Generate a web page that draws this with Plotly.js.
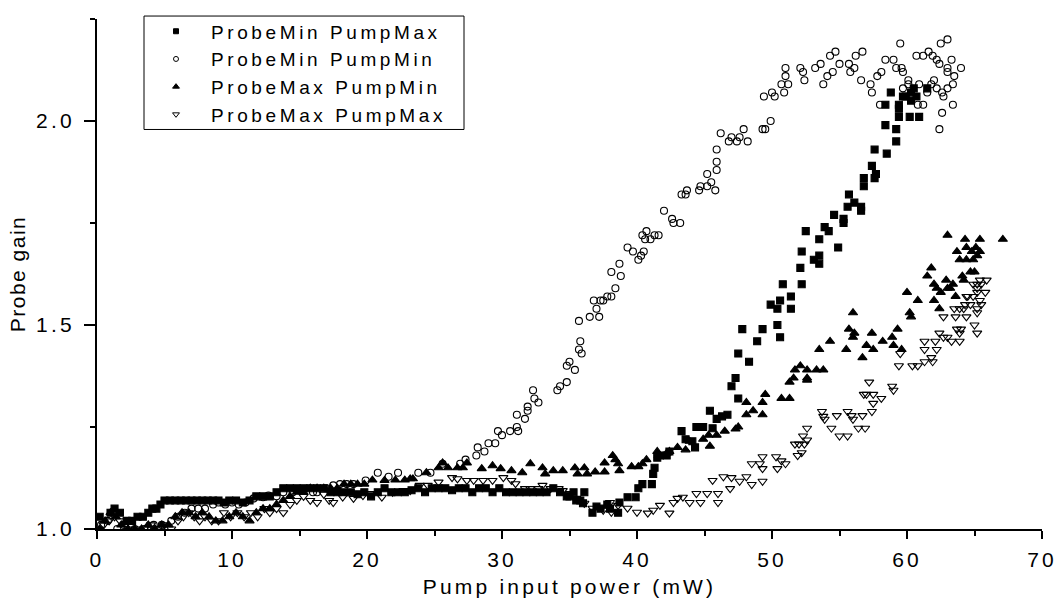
<!DOCTYPE html>
<html>
<head>
<meta charset="utf-8">
<script src="https://cdn.plot.ly/plotly-3.0.1.min.js"></script>
<style>
  html, body { margin: 0; padding: 0; background: #fff; }
  #chart { width: 1056px; height: 599px; }
  #chart .xtick text, #chart .ytick text, #chart text.xtitle { letter-spacing: 3.2px; }
  #chart text.ytitle { letter-spacing: 1.5px; }
  text.legendtext { letter-spacing: 3.6px; }
</style>
</head>
<body>
<div id="chart"></div>
<script>
// Series names (legend)
const seriesNames = ["ProbeMin PumpMax", "ProbeMin PumpMin", "ProbeMax PumpMin", "ProbeMax PumpMax"];

// Axis tick labels
const xTickVals = [0, 10, 20, 30, 40, 50, 60, 70];
const yTickVals = [1.0, 1.5, 2.0];
const yTickText = ["1.0", "1.5", "2.0"];

// ProbeMin PumpMax (filled squares) [pump mW, gain]
const probeMinPumpMax = [
  [0.2,1.03],[1.0,1.04],[1.3,1.05],[1.7,1.04],[2.2,1.02],[2.6,1.02],[3.0,1.03],[3.4,1.03],[3.8,1.04],[4.1,1.05],
  [4.4,1.05],[4.7,1.06],[5.0,1.07],[5.4,1.07],[5.8,1.07],[6.2,1.07],[6.6,1.07],[7.0,1.07],[7.4,1.07],[7.8,1.07],
  [8.2,1.07],[8.6,1.07],[9.0,1.07],[9.4,1.065],[9.8,1.07],[10.3,1.07],[10.8,1.065],[11.3,1.07],[11.8,1.08],[12.3,1.08],
  [12.8,1.08],[13.3,1.09],[13.8,1.10],[14.3,1.10],[14.8,1.10],[15.3,1.10],[15.8,1.10],[16.3,1.10],[16.8,1.10],[17.3,1.09],
  [17.8,1.09],[18.3,1.09],[18.8,1.09],[19.3,1.085],[19.8,1.09],[20.3,1.08],[20.8,1.09],[21.3,1.10],[21.8,1.09],[22.3,1.09],
  [22.8,1.09],[23.3,1.095],[23.8,1.10],[24.3,1.09],[24.8,1.10],[25.3,1.10],[25.8,1.10],[26.3,1.095],[26.8,1.10],[27.3,1.10],
  [27.8,1.09],[28.3,1.10],[28.8,1.10],[29.3,1.09],[29.8,1.10],[30.3,1.09],[30.8,1.09],[31.3,1.09],[31.8,1.09],[32.3,1.09],
  [32.8,1.09],[33.3,1.09],[33.8,1.10],[34.3,1.09],[34.8,1.08],[35.0,1.08],[35.3,1.09],[35.5,1.07],[35.8,1.07],[36.1,1.09],
  [36.0,1.063],[36.7,1.04],[37.0,1.055],[37.3,1.05],[37.8,1.06],[38.0,1.05],[38.6,1.04],[38.7,1.065],[39.3,1.078],[39.9,1.078],
  [40.1,1.10],[40.4,1.11],[41.1,1.11],[41.2,1.135],[41.3,1.15],[41.5,1.175],[41.7,1.18],[42.2,1.18],[42.4,1.19],[43.3,1.24],
  [43.6,1.22],[44.1,1.215],[44.3,1.20],[44.4,1.25],[44.9,1.25],[45.4,1.29],[45.6,1.247],[45.9,1.27],[46.3,1.276],[46.7,1.28],
  [47.0,1.35],[47.3,1.37],[47.5,1.32],[47.5,1.43],[47.8,1.49],[48.3,1.41],[48.9,1.46],[49.3,1.49],[49.9,1.55],[50.4,1.54],
  [50.4,1.50],[50.6,1.47],[50.6,1.56],[51.4,1.54],[51.4,1.57],[50.8,1.60],[52.2,1.60],[52.1,1.64],[52.2,1.68],[53.1,1.66],
  [53.5,1.67],[53.5,1.65],[52.5,1.73],[53.5,1.71],[53.9,1.74],[54.2,1.73],[54.9,1.69],[54.6,1.77],[55.3,1.76],[55.3,1.75],
  [55.6,1.79],[56.1,1.80],[56.6,1.79],[56.6,1.78],[55.7,1.82],[56.8,1.84],[56.8,1.86],[57.7,1.87],[57.6,1.86],[57.4,1.89],
  [58.5,1.92],[57.6,1.93],[59.2,1.95],[59.2,1.98],[58.4,1.99],[59.4,2.01],[60.2,2.01],[60.9,2.01],[59.4,2.03],[59.4,2.04],
  [58.4,2.04],[59.7,2.06],[60.3,2.05],[60.3,2.07],[58.8,2.07],[60.5,2.08],[59.9,2.06],[61.5,2.08],[60.7,2.06]
];

// ProbeMin PumpMin (open circles)
const probeMinPumpMin = [
  [0.3,1.01],[0.8,1.02],[1.5,1.00],[2.0,1.01],[2.8,1.00],[3.5,1.00],[4.2,1.01],[4.8,1.01],[5.5,1.02],[6.0,1.03],
  [6.5,1.04],[7.0,1.05],[7.5,1.05],[8.0,1.05],[8.6,1.06],[9.0,1.065],[9.5,1.06],[10.0,1.065],[10.5,1.06],[11.0,1.065],
  [11.6,1.075],[12.3,1.078],[12.7,1.082],[13.3,1.08],[13.8,1.09],[14.5,1.09],[15.2,1.095],[16.0,1.09],[16.3,1.09],[17.0,1.10],
  [17.5,1.107],[18.0,1.11],[18.5,1.11],[19.0,1.11],[19.9,1.119],[20.8,1.138],[21.6,1.128],[22.3,1.138],[23.8,1.138],[24.7,1.138],
  [25.6,1.16],[26.9,1.16],[27.3,1.17],[28.1,1.18],[28.2,1.20],[28.7,1.19],[29.0,1.21],[29.5,1.21],[29.7,1.24],[30.0,1.23],
  [30.6,1.24],[31.1,1.25],[31.2,1.24],[31.1,1.28],[31.7,1.27],[31.9,1.29],[31.9,1.30],[32.3,1.34],[32.4,1.32],[32.7,1.31],
  [34.1,1.34],[34.3,1.35],[34.8,1.36],[34.8,1.40],[35.0,1.41],[35.4,1.39],[35.7,1.44],[35.8,1.46],[35.9,1.43],[35.7,1.51],
  [36.5,1.52],[37.2,1.52],[37.0,1.54],[36.8,1.56],[37.3,1.56],[37.5,1.56],[37.8,1.57],[38.1,1.57],[38.4,1.59],[38.1,1.63],
  [38.7,1.65],[38.8,1.62],[39.3,1.69],[39.7,1.68],[40.1,1.66],[40.3,1.67],[40.5,1.68],[40.4,1.72],[40.7,1.73],[40.6,1.71],
  [41.0,1.71],[41.3,1.72],[41.6,1.72],[42.0,1.78],[42.6,1.76],[42.7,1.75],[43.2,1.75],[43.3,1.82],[43.7,1.83],[43.6,1.82],
  [44.6,1.83],[44.7,1.84],[45.2,1.84],[45.5,1.85],[45.2,1.87],[45.8,1.83],[45.9,1.88],[45.9,1.90],[45.9,1.93],[46.2,1.97],
  [46.8,1.95],[47.0,1.96],[47.4,1.95],[47.6,1.96],[47.9,1.98],[48.2,1.95],[49.3,1.98],[49.5,1.98],[49.9,2.00],[49.4,2.06],
  [50.0,2.07],[50.2,2.06],[50.7,2.09],[51.2,2.09],[50.9,2.07],[51.0,2.11],[51.0,2.13],[52.1,2.13],[52.3,2.12],[52.4,2.10],
  [53.2,2.13],[53.6,2.14],[53.8,2.09],[54.1,2.11],[54.5,2.12],[54.3,2.16],[54.7,2.17],[55.0,2.14],[55.7,2.14],[55.8,2.12],
  [56.1,2.13],[56.2,2.16],[56.7,2.17],[56.6,2.10],[57.3,2.09],[57.4,2.07],[57.8,2.11],[58.1,2.12],[58.0,2.04],[58.4,2.15],
  [59.0,2.15],[59.2,2.13],[59.5,2.19],[59.6,2.13],[59.7,2.12],[60.1,2.10],[59.7,2.08],[60.7,2.16],[61.2,2.16],[61.6,2.17],
  [61.9,2.16],[62.2,2.15],[62.4,2.14],[62.5,2.19],[63.0,2.20],[63.0,2.13],[63.0,2.12],[63.3,2.15],[63.5,2.11],[64.0,2.13],
  [63.4,2.09],[63.4,2.04],[62.6,2.02],[62.4,1.98],[62.0,2.10],[63.0,2.08],[62.6,2.07],[62.2,2.08],[62.7,2.06],[61.5,2.07],
  [61.8,2.09],[60.9,2.09],[60.8,2.04],[61.2,2.04],[60.4,2.06],[60.1,2.09]
];

// ProbeMax PumpMin (filled up-triangles)
const probeMaxPumpMin = [
  [0.2,1.00],[0.6,1.02],[1.0,1.04],[1.4,1.03],[1.8,1.01],[2.3,1.00],[2.8,1.00],[3.3,1.00],[3.8,1.01],[4.3,1.00],
  [4.8,1.01],[5.3,1.01],[5.8,1.03],[6.3,1.04],[6.8,1.04],[7.3,1.03],[7.8,1.04],[8.3,1.03],[8.8,1.02],[9.3,1.02],
  [9.8,1.03],[10.3,1.04],[10.8,1.03],[11.3,1.02],[11.8,1.04],[12.3,1.05],[12.8,1.05],[13.3,1.06],[13.8,1.07],[14.3,1.08],
  [14.8,1.09],[15.3,1.09],[15.8,1.10],[16.3,1.10],[16.8,1.10],[17.3,1.10],[17.8,1.10],[18.3,1.11],[18.8,1.11],[19.3,1.11],
  [19.8,1.11],[20.4,1.12],[21.3,1.119],[22.1,1.12],[22.8,1.12],[23.2,1.123],[23.4,1.123],[24.4,1.138],[25.3,1.15],[25.6,1.162],
  [26.0,1.15],[26.7,1.15],[27.1,1.15],[27.4,1.162],[28.5,1.148],[29.3,1.155],[29.9,1.148],[30.7,1.143],[31.5,1.138],[32.1,1.16],
  [33.0,1.15],[33.2,1.135],[33.8,1.143],[34.5,1.143],[35.4,1.15],[35.6,1.135],[36.1,1.15],[36.3,1.135],[36.9,1.14],[37.6,1.14],
  [37.6,1.162],[38.2,1.18],[38.4,1.17],[38.6,1.16],[38.7,1.143],[39.6,1.153],[40.1,1.153],[40.4,1.16],[40.7,1.17],[41.5,1.19],
  [41.6,1.18],[42.2,1.186],[42.4,1.19],[43.0,1.20],[43.6,1.194],[43.9,1.215],[44.9,1.22],[45.3,1.23],[45.4,1.203],[45.9,1.23],
  [46.5,1.24],[47.3,1.245],[47.5,1.25],[48.1,1.31],[48.1,1.28],[48.6,1.29],[49.3,1.31],[49.3,1.28],[49.5,1.33],[50.7,1.32],
  [51.3,1.32],[51.3,1.36],[51.6,1.37],[52.6,1.37],[52.6,1.365],[51.7,1.39],[52.1,1.40],[52.6,1.39],[53.3,1.39],[53.8,1.39],
  [53.5,1.44],[54.3,1.46],[55.5,1.44],[55.7,1.49],[56.0,1.47],[56.1,1.48],[56.0,1.53],[56.7,1.42],[57.0,1.45],[57.4,1.48],
  [57.5,1.44],[58.2,1.46],[58.9,1.47],[59.0,1.45],[59.3,1.49],[59.6,1.44],[60.0,1.58],[60.2,1.53],[60.3,1.52],[60.8,1.56],
  [61.5,1.62],[61.8,1.64],[62.0,1.60],[62.0,1.56],[62.4,1.54],[62.2,1.59],[62.5,1.58],[62.9,1.61],[63.0,1.59],[63.2,1.59],
  [63.4,1.60],[63.6,1.57],[64.1,1.62],[64.2,1.61],[63.0,1.72],[64.3,1.71],[64.4,1.69],[63.7,1.68],[63.9,1.66],[64.4,1.66],
  [64.8,1.68],[64.9,1.66],[65.1,1.69],[65.4,1.71],[65.4,1.68],[65.2,1.67],[64.7,1.63],[65.0,1.63],[67.1,1.71]
];

// ProbeMax PumpMax (open down-triangles)
const probeMaxPumpMax = [
  [0.1,1.00],[0.5,1.01],[0.9,1.02],[1.3,1.03],[1.7,1.02],[2.1,1.01],[2.5,1.00],[3.0,1.00],[3.5,1.00],[4.0,1.01],
  [4.5,1.00],[5.0,1.01],[5.5,1.00],[6.0,1.02],[6.4,1.03],[6.8,1.04],[7.2,1.03],[7.6,1.02],[8.0,1.03],[8.5,1.02],
  [9.0,1.02],[9.4,1.04],[9.9,1.03],[10.4,1.04],[10.9,1.03],[11.4,1.04],[11.9,1.03],[12.4,1.05],[12.8,1.04],[13.3,1.05],
  [13.8,1.04],[14.3,1.06],[14.8,1.07],[15.3,1.08],[15.8,1.07],[16.3,1.065],[16.8,1.085],[17.2,1.07],
  [17.5,1.065],[18.2,1.078],[19.0,1.075],[19.7,1.082],[20.2,1.087],[21.1,1.078],[21.9,1.09],[22.7,1.094],[23.2,1.094],[23.9,1.107],
  [24.5,1.107],[25.3,1.115],[26.3,1.126],[26.7,1.123],[27.4,1.119],[27.9,1.119],[28.6,1.119],[29.3,1.119],[30.1,1.126],[30.7,1.119],
  [31.0,1.111],[31.7,1.099],[32.1,1.099],[32.7,1.099],[33.0,1.107],[33.6,1.099],[34.2,1.099],[34.5,1.094],[35.0,1.087],[35.5,1.075],
  [36.1,1.063],[36.7,1.051],[37.5,1.046],[38.0,1.065],[38.1,1.041],[38.6,1.058],[39.3,1.051],[40.0,1.041],[40.8,1.039],[41.2,1.046],
  [41.7,1.058],[42.4,1.039],[42.7,1.065],[43.0,1.075],[43.4,1.078],[43.9,1.065],[44.4,1.087],[44.7,1.065],[45.2,1.087],[46.0,1.087],
  [46.0,1.065],[46.9,1.099],[45.6,1.119],[46.4,1.128],[47.0,1.126],[47.6,1.117],[48.1,1.128],[48.5,1.109],[49.3,1.117],[48.5,1.16],
  [49.1,1.16],[49.3,1.177],[49.3,1.148],[50.3,1.177],[50.4,1.148],[50.7,1.167],[51.0,1.16],[51.9,1.18],[52.2,1.187],[51.7,1.208],
  [52.0,1.208],[52.4,1.208],[52.6,1.218],[52.3,1.228],[52.6,1.247],[53.7,1.288],[53.8,1.276],[53.9,1.269],[54.4,1.247],[54.8,1.278],
  [55.0,1.228],[55.6,1.228],[55.6,1.288],[55.9,1.278],[56.0,1.269],[56.7,1.278],[56.4,1.247],[56.9,1.247],[57.4,1.288],[57.5,1.308],
  [57.2,1.36],[56.8,1.33],[57.0,1.33],[57.5,1.33],[58.1,1.32],[58.9,1.35],[59.0,1.34],[59.5,1.43],[59.4,1.40],[60.4,1.40],
  [60.8,1.40],[61.3,1.41],[61.9,1.41],[61.8,1.42],[61.3,1.46],[61.3,1.44],[62.1,1.46],[62.2,1.44],[62.7,1.47],[63.0,1.47],
  [63.3,1.46],[63.9,1.46],[62.4,1.48],[62.7,1.52],[63.7,1.49],[63.9,1.48],[64.0,1.49],[65.0,1.50],[65.2,1.48],[63.6,1.52],
  [64.2,1.54],[64.4,1.52],[63.9,1.54],[63.5,1.54],[64.3,1.55],[64.4,1.57],[64.9,1.57],[65.2,1.53],[65.2,1.54],[65.4,1.56],
  [65.5,1.55],[65.8,1.58],[65.2,1.58],[65.2,1.60],[65.5,1.60],[65.9,1.61],[65.4,1.61],[64.9,1.60],[65.2,1.59],[64.5,1.57],
  [64.7,1.55]
];

const seriesData = [probeMinPumpMax, probeMinPumpMin, probeMaxPumpMin, probeMaxPumpMax];
const symbols = ["square", "circle-open", "triangle-up", "triangle-down-open"];
const sizes = [7, 7, 8, 8];
const legendSizes = [5, 5, 6, 6];

const FONT = "Liberation Sans, Arial, Helvetica, sans-serif";

const traces = [];
seriesData.forEach((d, i) => {
  traces.push({
    type: "scatter", mode: "markers",
    x: d.map(p => p[0]), y: d.map(p => p[1]),
    name: seriesNames[i], showlegend: false,
    marker: { symbol: symbols[i], size: sizes[i], color: "#000", line: { color: "#000", width: 1.1 } },
    hoverinfo: "x+y"
  });
});
// legend entries with smaller symbols
seriesData.forEach((d, i) => {
  traces.push({
    type: "scatter", mode: "markers",
    x: [null], y: [null],
    name: seriesNames[i], showlegend: true,
    marker: { symbol: symbols[i], size: legendSizes[i], color: "#000", line: { color: "#000", width: 1 } }
  });
});

const L = 97, R = 14, T = 12, B = 70;
const W = 1056, H = 599;
const pw = W - L - R, ph = H - T - B;

const layout = {
  width: W, height: H,
  margin: { l: L, r: R, t: T, b: B, pad: 0 },
  paper_bgcolor: "#fff", plot_bgcolor: "#fff",
  font: { family: FONT, size: 21, color: "#000" },
  showlegend: true,
  legend: {
    x: (141 - L) / pw, y: (H - B - 5.3) / ph, xanchor: "left", yanchor: "top",
    bgcolor: "rgba(0,0,0,0)", borderwidth: 0,
    font: { family: FONT, size: 19, color: "#000" },
    itemwidth: 60, tracegroupgap: 0, itemclick: false
  },
  xaxis: {
    range: [0, 70], tickvals: xTickVals, ticktext: xTickVals.map(String),
    showgrid: false, zeroline: false, showline: true, linecolor: "#000", linewidth: 2,
    ticks: "outside", ticklen: 8, tickwidth: 2, tickcolor: "#000", ticklabelstandoff: 3,
    minor: { dtick: 5, tick0: 0, ticks: "outside", ticklen: 5, tickwidth: 2, tickcolor: "#000", showgrid: false },
    tickfont: { family: FONT, size: 21, color: "#000" },
    title: { text: "Pump input power (mW)", font: { family: FONT, size: 21, color: "#000" }, standoff: 9 },
    automargin: false, fixedrange: true
  },
  yaxis: {
    range: [1.0, 2.25], tickvals: yTickVals, ticktext: yTickText,
    showgrid: false, zeroline: false, showline: true, linecolor: "#000", linewidth: 2,
    ticks: "outside", ticklen: 11, tickwidth: 2, tickcolor: "#000", ticklabelstandoff: 5,
    minor: { dtick: 0.25, tick0: 1.0, ticks: "outside", ticklen: 5, tickwidth: 2, tickcolor: "#000", showgrid: false },
    tickfont: { family: FONT, size: 21, color: "#000" },
    title: { text: "Probe gain", font: { family: FONT, size: 21, color: "#000" }, standoff: 14 },
    automargin: false, fixedrange: true
  },
  shapes: [{
    type: "rect", xref: "paper", yref: "paper",
    x0: (144 - L) / pw, x1: (464 - L) / pw,
    y0: (H - B - 124) / ph, y1: (H - B - 9) / ph,
    line: { color: "#000", width: 1 }, fillcolor: "rgba(0,0,0,0)", layer: "above"
  }]
};

Plotly.newPlot("chart", traces, layout, { displayModeBar: false, staticPlot: true });
</script>
</body>
</html>
